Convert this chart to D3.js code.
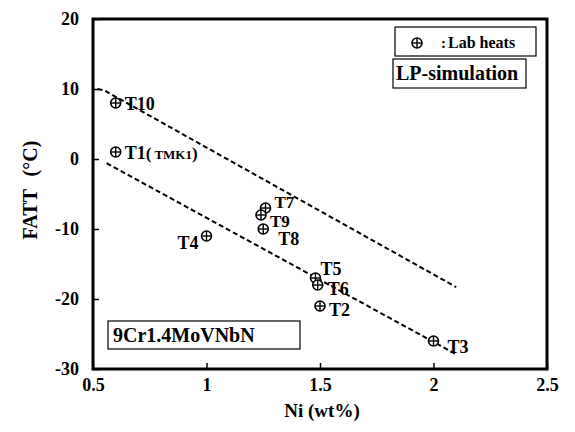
<!DOCTYPE html>
<html><head><meta charset="utf-8">
<script src="https://cdn.jsdelivr.net/npm/d3@7/dist/d3.min.js"></script>
<style>body{margin:0;background:#fff}svg{display:block}text{font-family:"Liberation Serif","DejaVu Serif",serif;font-weight:bold;fill:#000}</style>
</head><body><svg id="c" width="575" height="432"></svg>
<script>
// Data
const names = ["T10","T1","T4","T7","T9","T8","T5","T6","T2","T3"];
const ni    = [0.6, 0.6, 1.0, 1.26, 1.24, 1.25, 1.48, 1.49, 1.5, 2.0];
const fatt  = [8, 1, -11, -7, -8, -10, -17, -18, -21, -26];
const upperLineX = [0.52, 0.55, 2.1];
const upperLineY = [10, 9.8, -18.3];
const lowerLineX = [0.56, 2.1];
const lowerLineY = [-0.6, -27.9];
const xTicks = [0.5, 1, 1.5, 2, 2.5];
const xTickLabels = ["0.5","1","1.5","2","2.5"];
const yTicks = [20, 10, 0, -10, -20, -30];
const yTickLabels = ["20","10","0","-10","-20","-30"];

const svg = d3.select("#c");
const L = 93, R = 547, T = 19, B = 369;
const x = d3.scaleLinear().domain([0.5, 2.5]).range([L, R]);
const y = d3.scaleLinear().domain([-30, 20]).range([B, T]);

// Frame
svg.append("rect").attr("x", L).attr("y", T).attr("width", R - L).attr("height", B - T)
  .attr("fill", "none").attr("stroke", "#000").attr("stroke-width", 3);

// Axes with inward ticks
const xAxis = svg.append("g").attr("transform", `translate(0,${B})`)
  .call(d3.axisBottom(x).tickValues(xTicks).tickSize(-6).tickPadding(9)
    .tickFormat((d, i) => xTickLabels[i]));
xAxis.select(".domain").remove();
xAxis.selectAll("line").attr("stroke-width", 1.5);
xAxis.selectAll("text").style("font-size", "18px");

const yAxis = svg.append("g").attr("transform", `translate(${L},0)`)
  .call(d3.axisLeft(y).tickValues(yTicks).tickSize(-6).tickPadding(14)
    .tickFormat((d, i) => yTickLabels[i]));
yAxis.select(".domain").remove();
yAxis.selectAll("line").attr("stroke-width", 1.5);
yAxis.selectAll("text").style("font-size", "18px");

// Axis titles
svg.append("text").attr("x", 322).attr("y", 417).attr("text-anchor", "middle")
  .style("font-size", "19px").text("Ni (wt%)");
svg.append("text").attr("transform", "translate(37,190) rotate(-90)").attr("text-anchor", "middle")
  .style("font-size", "20px").style("word-spacing", "8px").text("FATT (°C)");

// Dashed lines
const line = d3.line().x(d => x(d[0])).y(d => y(d[1]));
svg.append("path").datum(upperLineX.map((v, i) => [v, upperLineY[i]])).attr("d", line)
  .attr("fill", "none").attr("stroke", "#000").attr("stroke-width", 2).attr("stroke-dasharray", "5,3");
svg.append("path").datum(lowerLineX.map((v, i) => [v, lowerLineY[i]])).attr("d", line)
  .attr("fill", "none").attr("stroke", "#000").attr("stroke-width", 2).attr("stroke-dasharray", "5,3");

// Markers: circle with cross
function marker(g, cx, cy) {
  const r = 5;
  g.append("circle").attr("cx", cx).attr("cy", cy).attr("r", r).attr("fill", "#fff")
    .attr("stroke", "#000").attr("stroke-width", 1.6);
  g.append("line").attr("x1", cx - r).attr("x2", cx + r).attr("y1", cy).attr("y2", cy).attr("stroke", "#000").attr("stroke-width", 1.4);
  g.append("line").attr("x1", cx).attr("x2", cx).attr("y1", cy - r).attr("y2", cy + r).attr("stroke", "#000").attr("stroke-width", 1.4);
}
const pts = svg.append("g");
names.forEach((n, i) => marker(pts, x(ni[i]), y(fatt[i])));

// Point labels (offsets in px)
const labelOffset = {
  T10: [9, 7, "start"], T1: [9, 7, "start"], T4: [-8, 13, "end"],
  T7: [9, 0, "start"], T9: [9, 12, "start"], T8: [15, 16, "start"],
  T5: [5, -3, "start"], T6: [10, 10, "start"], T2: [9, 10, "start"], T3: [14, 12, "start"]
};
names.forEach((n, i) => {
  const o = labelOffset[n];
  const t = svg.append("text").attr("x", x(ni[i]) + o[0]).attr("y", y(fatt[i]) + o[1])
    .attr("text-anchor", o[2]).style("font-size", n === "T7" || n === "T9" ? "17px" : "18px").text(n);
  if (n === "T1") {
    t.append("tspan").style("font-size", "17px").text("(");
    t.append("tspan").style("font-size", "13px").text(" TMK1");
    t.append("tspan").style("font-size", "17px").text(")");
  }
});

// Legend boxes
svg.append("rect").attr("x", 395).attr("y", 27).attr("width", 141).attr("height", 29)
  .attr("fill", "#fff").attr("stroke", "#000").attr("stroke-width", 1.2);
marker(svg, 417, 43);
svg.append("text").attr("x", 441).attr("y", 48).style("font-size", "15px").text(":");
svg.append("text").attr("x", 448).attr("y", 48).style("font-size", "16px").text("Lab heats");

svg.append("rect").attr("x", 393).attr("y", 59).attr("width", 133).attr("height", 29)
  .attr("fill", "#fff").attr("stroke", "#000").attr("stroke-width", 1.2);
svg.append("text").attr("x", 396).attr("y", 80).style("font-size", "20px").text("LP-simulation");

svg.append("rect").attr("x", 108).attr("y", 321).attr("width", 192).attr("height", 28)
  .attr("fill", "#fff").attr("stroke", "#000").attr("stroke-width", 1.2);
svg.append("text").attr("x", 113).attr("y", 342).style("font-size", "20px").text("9Cr1.4MoVNbN");
</script></body></html>
